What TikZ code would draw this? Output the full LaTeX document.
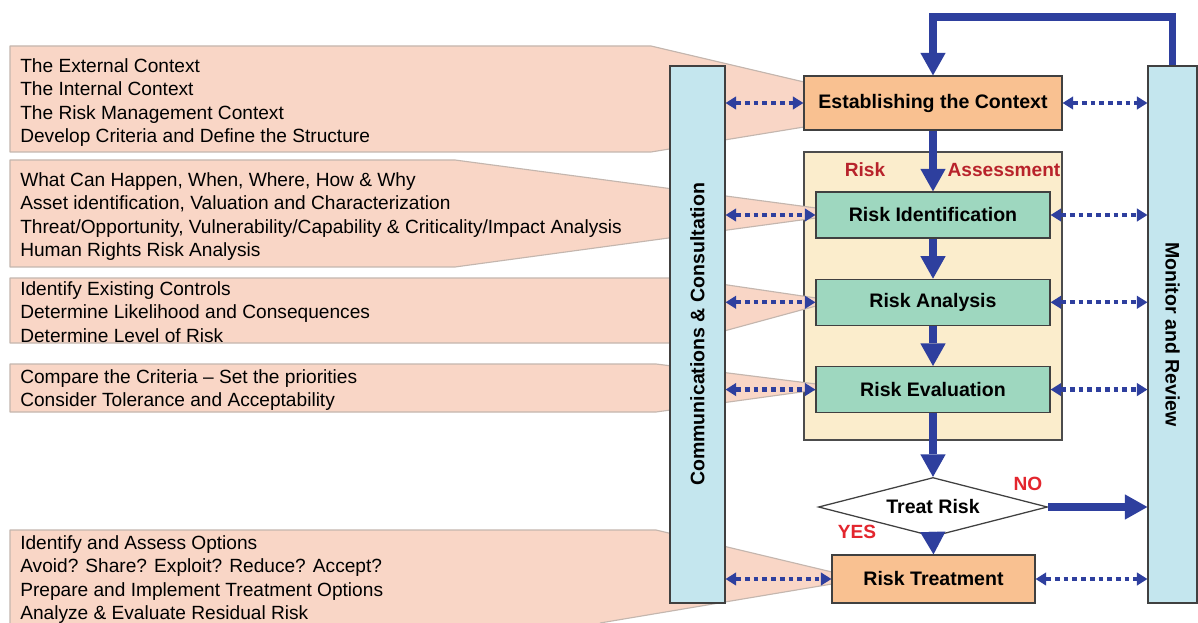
\documentclass[tikz,border=0pt]{standalone}
\usepackage{fontspec}
\setmainfont{Liberation Sans}
\usetikzlibrary{positioning,arrows.meta,shapes.geometric,calc}

\definecolor{calloutfill}{HTML}{F9D6C6}
\definecolor{calloutline}{HTML}{C4B6AE}
\definecolor{barfill}{HTML}{C4E6EE}
\definecolor{ctxfill}{HTML}{F9C191}
\definecolor{stagefill}{HTML}{9ED7BF}
\definecolor{assessfill}{HTML}{FBEDCC}
\definecolor{flowblue}{HTML}{2E3F9E}
\definecolor{labelred}{HTML}{B8232B}
\definecolor{decred}{HTML}{E3262E}

\begin{document}
\begin{tikzpicture}[
    x=0.025cm, y=-0.025cm,
    box/.style={draw=black!75, line width=0.9pt, inner sep=0pt,
                font=\fontsize{13.9}{16}\selectfont\bfseries},
    ctxbox/.style={box, fill=ctxfill},
    stagebox/.style={box, fill=stagefill, minimum width=5.85cm, minimum height=1.15cm},
    sidebar/.style={box, fill=barfill, minimum height=13.425cm},
    callout/.style={fill=calloutfill, draw=calloutline, line width=0.8pt, line join=round},
    calltext/.style={anchor=north west, inner sep=0pt, align=left,
                     font=\fontsize{13.6}{16.7}\selectfont},
    flow/.style={-{Triangle[width=18pt,length=16pt,line width=0pt]}, line width=5.5pt, draw=flowblue},
    link/.style={{Triangle[width=9.5pt,length=7.5pt,line width=0pt]}-{Triangle[width=9.5pt,length=7.5pt,line width=0pt]},
                 draw=flowblue, line width=3pt, dash pattern=on 3.4pt off 2.8pt},
    redlabel/.style={text=labelred, inner sep=0pt, font=\fontsize{13.6}{16}\selectfont\bfseries}
  ]
    \path[use as bounding box, fill=white] (0,0) rectangle (1198,623);

    % Assessment panel
    \node[draw=black!70, line width=0.8pt, fill=assessfill,
          minimum width=6.45cm, minimum height=7.2cm] (assess) at (933,296) {};

    % Left callouts
    \draw[callout] (10,46) -- (651,46) -- (804,82) -- (804,127) -- (651,152) -- (10,152) -- cycle;
    \draw[callout] (10,160) -- (455,160) -- (816,208) -- (816,218) -- (455,267) -- (10,267) -- cycle;
    \draw[callout] (10,278) -- (680,278) -- (816,298) -- (816,306) -- (680,343) -- (10,343) -- cycle;
    \draw[callout] (10,364) -- (656,364) -- (816,384) -- (816,390) -- (656,412) -- (10,412) -- cycle;
    \fill[calloutfill] (10,623) -- (10,530) -- (656,530) -- (832,572) -- (832,584) -- (600,623) -- cycle;
    \draw[calloutline, line width=0.8pt, line join=round]
      (10,623) -- (10,530) -- (656,530) -- (832,572) -- (832,584) -- (600,623);

    \node[calltext] (ctxnotes) at (20,58)
      {The External Context\\The Internal Context\\The Risk Management Context\\Develop Criteria and Define the Structure};
    \node[calltext] (identnotes) at (20,172)
      {What Can Happen, When, Where, How \& Why\\Asset identification, Valuation and Characterization\\Threat/Opportunity, Vulnerability/Capability \& Criticality/Impact Analysis\\Human Rights Risk Analysis};
    \node[calltext] (analysisnotes) at (20,281)
      {Identify Existing Controls\\Determine Likelihood and Consequences\\Determine Level of Risk};
    \node[calltext] (evalnotes) at (20,369)
      {Compare the Criteria -- Set the priorities\\Consider Tolerance and Acceptability};
    \node[calltext] (treatnotes) at (20,535)
      {Identify and Assess Options\\Avoid? Share? Exploit? Reduce? Accept?\\Prepare and Implement Treatment Options\\Analyze \& Evaluate Residual Risk};

    % Side bars
    \node[sidebar, minimum width=1.375cm] (comm) at (697.5,334.5)
      {\rotatebox{90}{Communications \& Consultation}};
    \node[sidebar, minimum width=1.225cm] (monitor) at (1172.5,334.5)
      {\rotatebox{-90}{Monitor and Review}};

    % Process steps
    \node[ctxbox, minimum width=6.45cm, minimum height=1.35cm] (estab) at (933,103)
      {Establishing the Context};
    \node[stagebox] (ident) at (933,215) {Risk Identification};
    \node[stagebox, below=1cm of ident] (analysis) {Risk Analysis};
    \node[stagebox, below=1cm of analysis] (evaluation) {Risk Evaluation};
    \node[box, fill=white, diamond, aspect=3.9, minimum width=5.725cm,
          minimum height=1.475cm] (treat) at (933,507) {Treat Risk};
    \node[ctxbox, minimum width=5.075cm, minimum height=1.2cm] (treatment) at (933.5,579)
      {Risk Treatment};

    % Labels
    \node[redlabel] (risklbl) at (865,170) {Risk};
    \node[redlabel] (assesslbl) at (1004,170) {Assessment};
    \node[redlabel, text=decred] (nolbl) at (1028,484) {NO};
    \node[redlabel, text=decred] (yeslbl) at (857,532) {YES};

    % Main flow
    \draw[flow] (estab.south) -- (ident.north);
    \draw[flow] (ident.south) -- (analysis.north);
    \draw[flow] (analysis.south) -- (evaluation.north);
    \draw[flow] (evaluation.south) -- (treat.north);
    \draw[flow] (treat.south) -- (treatment.north);
    \draw[flow] (treat.east) -- (treat.east -| monitor.west);
    \draw[flow, line join=miter] (monitor.north) -- ++(0,-48) -| (estab.north);

    % Communication and review links
    \draw[link] (comm.east |- estab.west) -- (estab.west);
    \draw[link] (estab.east) -- (estab.east -| monitor.west);
    \draw[link] (comm.east |- ident.west) -- (ident.west);
    \draw[link] (ident.east) -- (ident.east -| monitor.west);
    \draw[link] (comm.east |- analysis.west) -- (analysis.west);
    \draw[link] (analysis.east) -- (analysis.east -| monitor.west);
    \draw[link] (comm.east |- evaluation.west) -- (evaluation.west);
    \draw[link] (evaluation.east) -- (evaluation.east -| monitor.west);
    \draw[link] (comm.east |- treatment.west) -- (treatment.west);
    \draw[link] (treatment.east) -- (treatment.east -| monitor.west);
  \end{tikzpicture}
\end{document}
